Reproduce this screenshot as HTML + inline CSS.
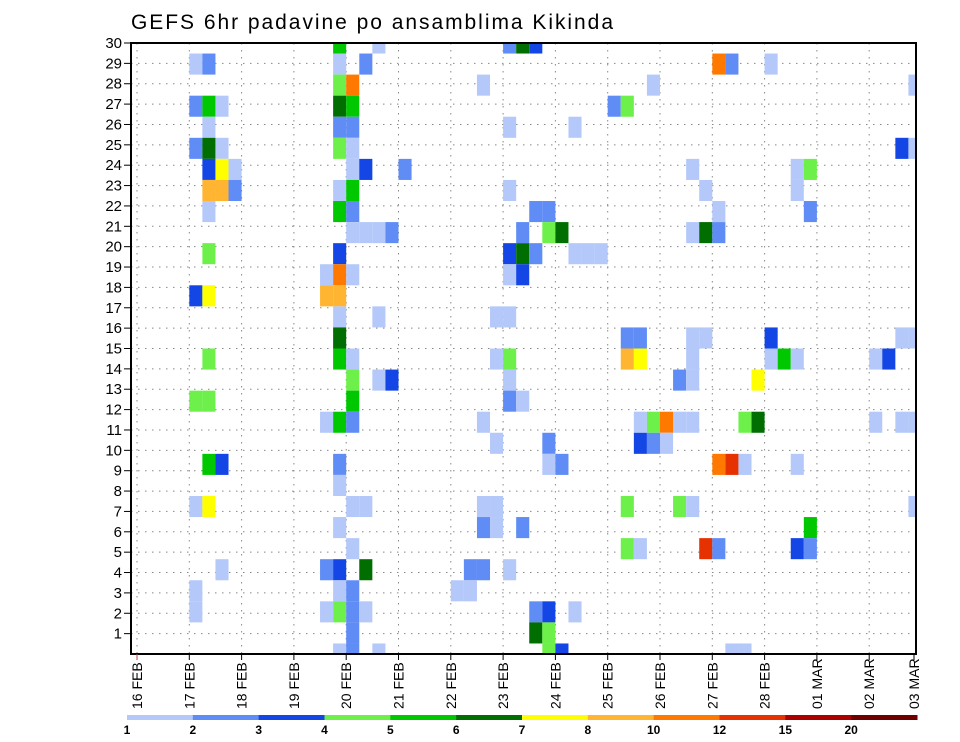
<!DOCTYPE html>
<html>
<head>
<meta charset="utf-8">
<style>
  html,body{margin:0;padding:0;background:#fff;}
  svg{display:block;font-family:"Liberation Sans",sans-serif;}
</style>
</head>
<body>
<svg id="chart" width="960" height="742" viewBox="0 0 960 742" xmlns="http://www.w3.org/2000/svg">
  <defs>
    <clipPath id="plotClip"><rect x="131" y="43" width="785" height="611"/></clipPath>
  </defs>
  <text x="131" y="29" font-size="21" textLength="482" fill="#000">GEFS 6hr padavine po ansamblima Kikinda</text>
  <g id="grid"></g>
  <g id="cells" clip-path="url(#plotClip)"></g>
  <rect x="131" y="43" width="785" height="611" fill="none" stroke="#000" stroke-width="2"/>
  <g id="yaxis"></g>
  <g id="xaxis"></g>
  <g id="legend"></g>
</svg>
<script>
// ---- data ----
var members = [30,30, 29,29,29,29, 28,28, 27,27,27,27,27, 26,26,26, 25,25,25,25,25, 24,24,24,24,24,24, 23,23,23,23,23, 22,22,22, 21,21,21,21, 20,20, 19,19,19, 18,18,18,18, 17,17, 16, 15,15,15, 14,14,14, 13,13,13, 12,12,12, 10,10,10, 9, 8,8,8,8, 7, 6, 5,5,5,5, 4,4,4, 3,3,3,3,3, 2, 1,1,1,
  30,30,30, 28,28, 27,27, 26,26, 23, 22,22, 21,21,21, 20,20,20,20,20,20, 19,19, 17,17, 16,16, 15,15,15,15, 14, 13,13, 12,12,12, 11,11,11,11, 10,10, 8,8,8, 7,7,7, 6,6, 5,5,5, 4,4, 3,3,3, 2,2, 1,1,
  29,29,29, 28, 25,25, 24,24,24, 23,23, 22,22, 21,21,21, 16,16,16,16,16, 15,15,15,15,15,15, 14,14,14, 12,12,12,12,12,12,12,12, 11, 10,10,10,10, 8,8,8, 7, 6,6,6,6, 1,1];
var columns = [15,18, 4,5,15,17, 15,16, 4,5,6,15,16, 5,15,16, 4,5,6,15,16, 5,6,7,16,17,20, 5,6,7,15,16, 5,15,16, 16,17,18,19, 5,15, 14,15,16, 4,5,14,15, 15,18, 15, 5,15,16, 16,18,19, 4,5,16, 14,15,16, 5,6,15, 15, 4,5,16,17, 15, 16, 6,14,15,17, 4,15,16, 4,14,15,16,17, 16, 15,16,18,
  28,29,30, 26,39, 36,37, 28,33, 28, 30,31, 29,31,32, 28,29,30,33,34,35, 28,29, 27,28, 37,38, 27,28,37,38, 28, 28,29, 26,38,39, 27,31,38,39, 31,32, 26,27,37, 26,27,29, 37,38, 25,26,28, 24,25, 30,31,33, 30,31, 31,32,
  44,45,48, 59, 58,59, 42,50,51, 43,50, 44,51, 42,43,44, 42,43,48,58,59, 42,48,49,50,56,57, 41,42,47, 40,41,42,46,47,56,58,59, 40, 44,45,46,50, 41,42,59, 51, 43,44,50,51, 45,46];
var values = [5.5,1.5, 1.5,2.5,1.5,2.5, 4.5,11, 2.5,5.5,1.5,6.5,5.5, 1.5,2.5,2.5, 2.5,6.5,1.5,4.5,1.5, 3.5,7.5,1.5,1.5,3.5,2.5, 9,9,2.5,1.5,5.5, 1.5,5.5,2.5, 1.5,1.5,1.5,2.5, 4.5,3.5, 1.5,11,1.5, 3.5,7.5,9,9, 1.5,1.5, 6.5, 4.5,5.5,1.5, 4.5,1.5,3.5, 4.5,4.5,5.5, 1.5,5.5,2.5, 5.5,3.5,2.5, 1.5, 1.5,7.5,1.5,1.5, 1.5, 1.5, 1.5,2.5,3.5,6.5, 1.5,1.5,2.5, 1.5,1.5,4.5,2.5,1.5, 2.5, 1.5,2.5,1.5,
  2.5,6.5,3.5, 1.5,1.5, 2.5,4.5, 1.5,1.5, 1.5, 2.5,2.5, 2.5,4.5,6.5, 3.5,6.5,2.5,1.5,1.5,1.5, 1.5,3.5, 1.5,1.5, 2.5,2.5, 1.5,4.5,9,7.5, 1.5, 2.5,1.5, 1.5,1.5,4.5, 1.5,2.5,3.5,2.5, 1.5,2.5, 1.5,1.5,4.5, 2.5,1.5,2.5, 4.5,1.5, 2.5,2.5,1.5, 1.5,1.5, 2.5,3.5,1.5, 6.5,4.5, 4.5,3.5,
  11,2.5,1.5, 1.5, 3.5,1.5, 1.5,1.5,4.5, 1.5,1.5, 1.5,2.5, 1.5,6.5,2.5, 1.5,1.5,3.5,1.5,1.5, 1.5,1.5,5.5,1.5,1.5,3.5, 2.5,1.5,7.5, 11,1.5,1.5,4.5,6.5,1.5,1.5,1.5, 1.5, 11,13,1.5,1.5, 4.5,1.5,1.5, 5.5, 13,2.5,3.5,2.5, 1.5,1.5];
var dayLabels = ["16 FEB","17 FEB","18 FEB","19 FEB","20 FEB","21 FEB","22 FEB","23 FEB","24 FEB","25 FEB","26 FEB","27 FEB","28 FEB","01 MAR","02 MAR","03 MAR"];
var yTicks = [1,2,3,4,5,6,7,8,9,10,11,12,13,14,15,16,17,18,19,20,21,22,23,24,25,26,27,28,29,30];
var levels = [1,2,3,4,5,6,7,8,10,12,15,20];
var levelColors = ["#b4c8fa","#5f8cf5","#1446e6","#6ef04b","#00c800","#006e00","#ffff00","#ffb432","#ff7800","#e63200","#aa0000","#6e0000"];

// ---- scales ----
var NS="http://www.w3.org/2000/svg";
var X0=137, DAYW=52.3, COLW=DAYW/4, PL=131, PR=916, PT=43, PB=654;
var ROWH=(PB-PT)/29;
function xCol(c){return X0+c*COLW;}
function xDay(d){return X0+d*DAYW;}
function yMember(m){return PB-(m-1)*ROWH;}
function yTick(v){return PB-v*(PB-PT)/30;}
function colorOf(v){var i=0;for(var k=0;k<levels.length;k++){if(v>=levels[k])i=k;}return levelColors[i];}
function mk(tag,attrs,parent){var e=document.createElementNS(NS,tag);for(var k in attrs)e.setAttribute(k,attrs[k]);parent.appendChild(e);return e;}

// grid
var grid=document.getElementById('grid');
for(var i=0;i<yTicks.length-1;i++){
  var gy=yTick(yTicks[i]);
  var gl=mk('line',{x1:PL,x2:PR,y1:gy,y2:gy,stroke:'#888','stroke-width':1,'stroke-dasharray':'1.5 5.5'},grid);
  
  
}
for(var d=0;d<dayLabels.length-1;d++){
  var gx=xDay(d);
  var vl=mk('line',{x1:gx,x2:gx,y1:PT,y2:PB,stroke:'#888','stroke-width':1,'stroke-dasharray':'1.5 5.5'},grid);
  
  
}

// cells
var cells=document.getElementById('cells');
for(var j=0;j<values.length;j++){
  var cy=yMember(members[j]);
  var r=mk('rect',{x:xCol(columns[j]),y:cy-ROWH/2,width:COLW,height:ROWH,fill:colorOf(values[j])},cells);
  
  
}

// y axis
var ya=document.getElementById('yaxis');
for(var i=0;i<yTicks.length;i++){
  var ty=yTick(yTicks[i]);
  var tk=mk('line',{x1:124,x2:PL,y1:ty,y2:ty,stroke:'#000','stroke-width':1},ya);
  
  
  var tt=mk('text',{x:122,y:ty+5,'font-size':15,'text-anchor':'end',fill:'#000'},ya);
  tt.textContent=yTicks[i];
  
  
}

// x axis
var xa=document.getElementById('xaxis');
for(var d=0;d<dayLabels.length;d++){
  var tx=(d===dayLabels.length-1)?914:xDay(d);
  var xt=mk('line',{x1:tx,x2:tx,y1:PB,y2:PB+6,stroke:(d===0?'#c04040':'#000'),'stroke-width':1},xa);
  
  
  var xl=mk('text',{x:0,y:0,'font-size':14,fill:'#000',transform:'translate('+(tx+5)+',709) rotate(-90)'},xa);
  xl.textContent=dayLabels[d];
  
  
}

// legend
var lg=document.getElementById('legend');
var LX0=127, LX1=917, SEGW=(LX1-LX0)/levels.length;
for(var k=0;k<levels.length;k++){
  var sr=mk('rect',{x:LX0+k*SEGW,y:715,width:SEGW+0.5,height:5,fill:levelColors[k]},lg);
  
  
  var st=mk('text',{x:LX0+k*SEGW,y:734,'font-size':12,'font-weight':'bold','text-anchor':'middle',fill:'#000'},lg);
  st.textContent=levels[k];
  
  
}
</script>
</body>
</html>
